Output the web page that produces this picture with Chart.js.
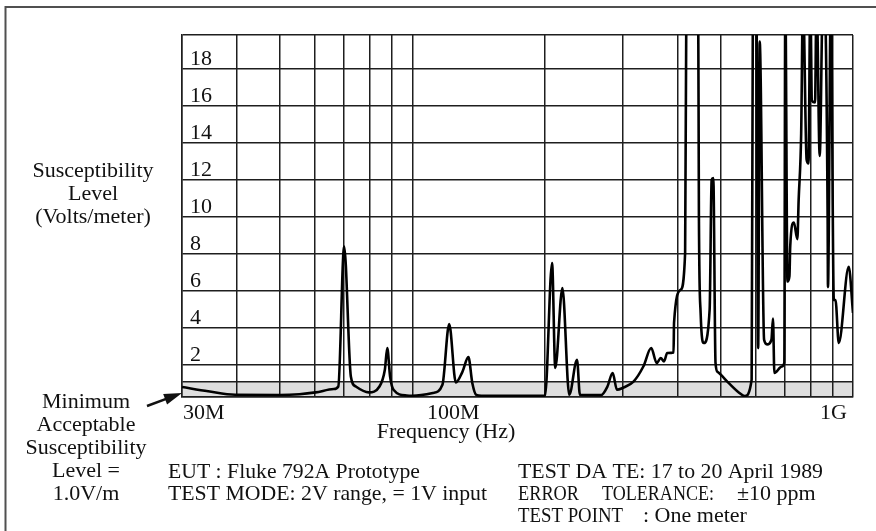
<!DOCTYPE html>
<html><head><meta charset="utf-8">
<script src="https://cdn.jsdelivr.net/npm/chart.js@4/dist/chart.umd.min.js"></script>
<style>html,body{margin:0;padding:0;background:#fff;}canvas{display:block;}</style>
</head><body>
<canvas id="c" width="876" height="531"></canvas>
<script>
// ---- data (frequency in MHz, susceptibility level in V/m) ----
const freqMHz = [30,34.4,39.6,50,55.4,60.3,66.3,67.9,70.0,72.5,74.4,79.6,84.2,86.6,87.7,89.0,90.6,97.1,100,
  111.3,117,121.2,125.5,129.8,134,136.8,139.6,143.5,200,207.5,211,219,227,236.4,240,268,276.9,284.8,291.3,300,
  318,334.3,348.4,358.4,366.2,372.5,378.7,391.5,392.5,406.3,415.9,418.7,431.2,445.2,447,451,458.5,472.8,477.7,481.9,
  487.5,493.2,522.6,552.3,567.7,588.8,592.7,597,603.7,609.2,614.1,628.4,638.1,653,658.2,663.1,689.4,698.4,
  702.0,710.1,717.4,720.3,734.2,747.7,752.7,762.7,770.0,784.8,792.6,800,806.7,820,826.6,840.3,854.5,861.3,
  875.9,877.4,890.6,904.7,912.6,928.3,977.9,1000];
const levelVm = [0.79,0.56,0.37,0.36,0.40,0.50,0.68,0.82,8.4,1.36,0.82,0.50,0.82,1.73,2.9,1.36,0.64,0.33,0.32,
  0.47,0.91,4.2,1.04,1.6,2.41,1.0,0.37,0.32,0.32,7.5,1.82,6.15,0.37,2.27,0.37,0.35,0.8,1.55,0.64,0.74,
  1.1,1.9,2.9,2.09,2.36,2.18,2.63,2.66,4.26,6.06,8.05,22,26,22,10.0,4.8,3.17,5.0,12.0,12.1,
  2.1,1.6,1.0,0.47,0.3,1.19,22,24,22,2.9,19.5,3.35,3.1,3.35,4.5,1.55,1.9,2.1,
  22,6.5,6.8,8.4,9.7,8.8,10.9,14.5,22,13.1,12.9,22,16.3,16.2,22,13.3,22,22,
  9.85,6.2,22,5.5,5.5,3.17,7.3,4.8];
const xGridMHz = [30,40,50,60,70,80,90,100,200,300,400,500,600,700,800,900,1000];
const xTickLabels = ['30M','100M','1G'];
const xTickValues = [30,100,1000];
const yTickValues = [2,4,6,8,10,12,14,16,18];
const yTickLabels = ['2','4','6','8','10','12','14','16','18'];
const yRange = [0.25, 19.85];
const minAcceptableVm = 1.1;

const FONT = '22px "Liberation Serif", "Times New Roman", serif';
const GRID = '#1e1e1e';

const points = freqMHz.map((f, i) => ({x: f, y: levelVm[i]}));

const decor = {
  id: 'decor',
  beforeDraw(chart) {
    const {ctx, chartArea: a, scales: {x, y}} = chart;
    const yb = y.getPixelForValue(minAcceptableVm);
    ctx.save();
    ctx.fillStyle = '#dedede';
    ctx.fillRect(a.left, yb, a.right - a.left, a.bottom - yb);
    ctx.restore();
  },
  afterDraw(chart) {
    const {ctx, chartArea: a, scales: {x, y}} = chart;
    ctx.save();
    ctx.fillStyle = '#111';
    ctx.font = FONT;
    ctx.textBaseline = 'alphabetic';
    // y tick labels (inside plot, just above grid line)
    ctx.textAlign = 'left';
    yTickValues.forEach((v, i) => {
      ctx.fillText(yTickLabels[i], a.left + 8, y.getPixelForValue(v) - 4);
    });
    // x tick labels
    const xb = a.bottom + 22;
    ctx.textAlign = 'left';
    ctx.fillText(xTickLabels[0], x.getPixelForValue(xTickValues[0]) + 1, xb);
    ctx.textAlign = 'center';
    ctx.fillText(xTickLabels[1], x.getPixelForValue(xTickValues[1]) + 41, xb);
    ctx.textAlign = 'right';
    ctx.fillText(xTickLabels[2], x.getPixelForValue(xTickValues[2]) - 6, xb);
    // axis titles
    ctx.textAlign = 'center';
    ctx.fillText('Frequency (Hz)', 446, 438);
    ctx.fillText('Susceptibility', 93, 177, 122);
    ctx.fillText('Level', 93, 200);
    ctx.fillText('(Volts/meter)', 93, 223, 120);
    ['Minimum','Acceptable','Susceptibility','Level =','1.0V/m'].forEach((t, i) => {
      ctx.fillText(t, 86, 408 + i * 23, 122);
    });
    // notes
    ctx.textAlign = 'left';
    ctx.fillText('EUT : Fluke 792A Prototype', 168, 478, 252);
    ctx.fillText('TEST MODE: 2V range, = 1V input', 168, 500, 319);
    ctx.fillText('TEST DA TE: 17 to 20 April 1989', 518, 478, 305);
    ctx.fillText('ERROR', 518, 500, 61);
    ctx.fillText('TOLERANCE:', 602, 500, 112);
    ctx.fillText('\u00b110 ppm', 737, 500, 86);
    ctx.fillText('TEST POINT', 518, 522, 105);
    ctx.fillText(': One meter', 643, 522, 104);
    // arrow
    const tx = a.left, ty = a.bottom - 4;
    const sx = 147, sy = 406;
    const ang = Math.atan2(ty - sy, tx - sx);
    ctx.strokeStyle = '#111';
    ctx.lineWidth = 2.5;
    ctx.beginPath();
    ctx.moveTo(sx, sy);
    ctx.lineTo(tx - 14 * Math.cos(ang), ty - 14 * Math.sin(ang));
    ctx.stroke();
    ctx.beginPath();
    ctx.moveTo(tx, ty);
    ctx.lineTo(tx - 18 * Math.cos(ang) + 5.5 * Math.sin(ang), ty - 18 * Math.sin(ang) - 5.5 * Math.cos(ang));
    ctx.lineTo(tx - 18 * Math.cos(ang) - 5.5 * Math.sin(ang), ty - 18 * Math.sin(ang) + 5.5 * Math.cos(ang));
    ctx.closePath();
    ctx.fill();
    // outer frame
    ctx.strokeStyle = '#505050';
    ctx.lineWidth = 2;
    ctx.beginPath();
    ctx.moveTo(5.5, 540);
    ctx.lineTo(5.5, 7);
    ctx.lineTo(880, 7);
    ctx.stroke();
    ctx.restore();
  }
};

new Chart(document.getElementById('c'), {
  type: 'line',
  data: {
    datasets: [{
      data: points,
      borderColor: '#000',
      borderWidth: 2.6,
      pointRadius: 0,
      fill: false,
      cubicInterpolationMode: 'monotone',
      clip: 0
    }]
  },
  options: {
    responsive: false,
    devicePixelRatio: 1,
    animation: false,
    events: [],
    layout: {padding: {left: 182, right: 23, top: 35, bottom: 134}},
    plugins: {legend: {display: false}, tooltip: {enabled: false}},
    scales: {
      x: {
        type: 'logarithmic',
        min: 30, max: 1000,
        afterBuildTicks: s => { s.ticks = xGridMHz.map(v => ({value: v})); },
        ticks: {display: false},
        grid: {color: GRID, lineWidth: 1.5, drawTicks: false},
        border: {display: true, color: GRID, width: 1.5}
      },
      y: {
        type: 'linear',
        min: yRange[0], max: yRange[1],
        afterBuildTicks: s => { s.ticks = [yRange[0], minAcceptableVm, ...yTickValues, yRange[1]].map(v => ({value: v})); },
        ticks: {display: false},
        grid: {color: GRID, lineWidth: 1.5, drawTicks: false},
        border: {display: true, color: GRID, width: 1.5}
      }
    }
  },
  plugins: [decor]
});
</script>
</body></html>
